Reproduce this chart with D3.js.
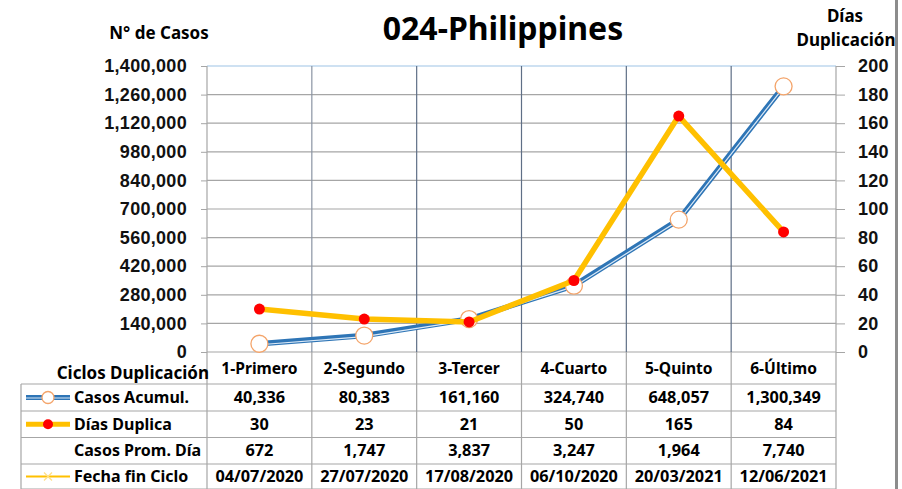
<!DOCTYPE html>
<html>
<head>
<meta charset="utf-8">
<script src="https://cdn.jsdelivr.net/npm/d3@7"></script>
<style>
  body { margin: 0; background: #fff; }
  svg { display: block; font-family: "Noto Sans", "Open Sans", sans-serif; font-weight: bold; }
</style>
</head>
<body>
<div class="chart"></div>
<script>
const categories = ["1-Primero", "2-Segundo", "3-Tercer", "4-Cuarto", "5-Quinto", "6-Último"];
const casosAcumul = [40336, 80383, 161160, 324740, 648057, 1300349];
const diasDuplica = [30, 23, 21, 50, 165, 84];
const casosPromDia = ["672", "1,747", "3,837", "3,247", "1,964", "7,740"];
const fechaFinCiclo = ["04/07/2020", "27/07/2020", "17/08/2020", "06/10/2020", "20/03/2021", "12/06/2021"];
const leftTicks = d3.range(0, 1400001, 140000);
const rightTicks = d3.range(0, 201, 20);

const width = 902, height = 489;
const plot = { left: 207, right: 836, top: 66, bottom: 352 };
const table = { left: 21, rows: [384, 411, 437.5, 464, 489] };

const svg = d3.select(".chart").append("svg")
    .attr("width", width)
    .attr("height", height);

const x = d3.scaleBand()
    .domain(categories)
    .range([plot.left, plot.right])
    .padding(0);

const y = d3.scaleLinear()
    .domain([0, 1400000])
    .range([plot.bottom, plot.top]);

const y2 = d3.scaleLinear()
    .domain([0, 200])
    .range([plot.bottom, plot.top]);

const cx = c => x(c) + x.bandwidth() / 2;

// horizontal grid
svg.append("g").selectAll("line")
    .data(leftTicks)
    .join("line")
    .attr("x1", plot.left).attr("x2", plot.right)
    .attr("y1", d => y(d)).attr("y2", d => y(d))
    .attr("stroke", d => d == 1400000 ? "#9dc3e6" : "#a6a6a6")
    .attr("stroke-width", 1.2);

// vertical dividers, plot part darker, table part lighter
const dividers = categories.map(c => x(c)).concat([plot.right]);
svg.append("g").selectAll("line")
    .data(dividers)
    .join("line")
    .attr("x1", d => d).attr("x2", d => d)
    .attr("y1", plot.top).attr("y2", plot.bottom)
    .attr("stroke", (d, i) => (i == 0 || i == 6) ? "#a6a6a6" : (i == 1 ? "#8a94a3" : "#5f6f86"))
    .attr("stroke-width", 1.2);

svg.append("g").selectAll("line")
    .data(dividers)
    .join("line")
    .attr("x1", d => d).attr("x2", d => d)
    .attr("y1", plot.bottom).attr("y2", height)
    .attr("stroke", "#a6a6a6")
    .attr("stroke-width", 1.2);

// axes
const leftAxis = svg.append("g")
    .attr("transform", `translate(${plot.left},0)`)
    .call(d3.axisLeft(y).tickValues(leftTicks).tickSize(6).tickPadding(14).tickFormat(d3.format(",")));
leftAxis.select(".domain").remove();
leftAxis.selectAll("line").attr("stroke", "#a6a6a6");
leftAxis.selectAll("text").attr("font-size", 18).attr("font-family", null).attr("fill", "#111")
    .attr("letter-spacing", 0.3);

const rightAxis = svg.append("g")
    .attr("transform", `translate(${plot.right},0)`)
    .call(d3.axisRight(y2).tickValues(rightTicks).tickSize(9).tickPadding(13));
rightAxis.select(".domain").remove();
rightAxis.selectAll("line").attr("stroke", "#a6a6a6");
rightAxis.selectAll("text").attr("font-size", 18).attr("font-family", null).attr("fill", "#111")
    .attr("letter-spacing", 0.3);

// titles
svg.append("text")
    .attr("x", 503).attr("y", 40)
    .attr("text-anchor", "middle")
    .attr("font-size", 32)
    .text("024-Philippines");

svg.append("text")
    .attr("x", 159).attr("y", 39)
    .attr("text-anchor", "middle")
    .attr("font-size", 17)
    .text("N° de Casos");

svg.append("text")
    .attr("x", 845).attr("y", 22)
    .attr("text-anchor", "middle")
    .attr("font-size", 17)
    .text("Días");

svg.append("text")
    .attr("x", 846).attr("y", 46)
    .attr("text-anchor", "middle")
    .attr("font-size", 17)
    .text("Duplicación");

// casos line (double blue)
const casosLine = d3.line()
    .x((d, i) => cx(categories[i]))
    .y(d => y(d));

svg.append("path")
    .datum(casosAcumul)
    .attr("fill", "none")
    .attr("stroke", "#2e75b6")
    .attr("stroke-width", 5.5)
    .attr("d", casosLine);
svg.append("path")
    .datum(casosAcumul)
    .attr("fill", "none")
    .attr("stroke", "#dce9f6")
    .attr("stroke-width", 1.2)
    .attr("transform", "translate(0,1)")
    .attr("d", casosLine);

svg.append("g").selectAll("circle")
    .data(casosAcumul)
    .join("circle")
    .attr("cx", (d, i) => cx(categories[i]))
    .attr("cy", d => y(d))
    .attr("r", 8.5)
    .attr("fill", "#fff")
    .attr("stroke", "#f4a46a")
    .attr("stroke-width", 1.3);

// dias line (yellow)
const diasLine = d3.line()
    .x((d, i) => cx(categories[i]))
    .y(d => y2(d));

svg.append("path")
    .datum(diasDuplica)
    .attr("fill", "none")
    .attr("stroke", "#ffc000")
    .attr("stroke-width", 5.5)
    .attr("stroke-linejoin", "round")
    .attr("d", diasLine);

svg.append("g").selectAll("circle")
    .data(diasDuplica)
    .join("circle")
    .attr("cx", (d, i) => cx(categories[i]))
    .attr("cy", d => y2(d))
    .attr("r", 5.5)
    .attr("fill", "#ff0000");

// data table
svg.append("g").selectAll("line")
    .data(table.rows)
    .join("line")
    .attr("x1", table.left).attr("x2", plot.right)
    .attr("y1", d => d).attr("y2", d => d)
    .attr("stroke", "#a6a6a6")
    .attr("stroke-width", 1.2);

svg.append("line")
    .attr("x1", table.left).attr("x2", table.left)
    .attr("y1", table.rows[0]).attr("y2", height)
    .attr("stroke", "#a6a6a6")
    .attr("stroke-width", 1.2);

svg.append("text")
    .attr("x", 209).attr("y", 379)
    .attr("text-anchor", "end")
    .attr("font-size", 17)
    .text("Ciclos Duplicación");

svg.append("g").selectAll("text")
    .data(categories)
    .join("text")
    .attr("x", d => cx(d))
    .attr("y", 374)
    .attr("text-anchor", "middle")
    .attr("font-size", 15.6)
    .text(d => d);

const rows = [
    { label: "Casos Acumul.", values: casosAcumul.map(d3.format(",")) },
    { label: "Días Duplica", values: diasDuplica.map(String) },
    { label: "Casos Prom. Día", values: casosPromDia },
    { label: "Fecha fin Ciclo", values: fechaFinCiclo }
];

rows.forEach((r, ri) => {
    const my = (table.rows[ri] + table.rows[ri + 1]) / 2;
    svg.append("text")
        .attr("x", 74).attr("y", my)
        .attr("dy", "0.35em")
        .attr("font-size", 16)
        .text(r.label);
    svg.append("g").selectAll("text")
        .data(r.values)
        .join("text")
        .attr("x", (d, i) => cx(categories[i]))
        .attr("y", my)
        .attr("dy", "0.35em")
        .attr("text-anchor", "middle")
        .attr("font-size", 16.3)
        .text(d => d);
});

// legend keys in table
const key1 = (table.rows[0] + table.rows[1]) / 2;
svg.append("line").attr("x1", 26).attr("x2", 70).attr("y1", key1).attr("y2", key1)
    .attr("stroke", "#2e75b6").attr("stroke-width", 5);
svg.append("line").attr("x1", 26).attr("x2", 70).attr("y1", key1 + 0.5).attr("y2", key1 + 0.5)
    .attr("stroke", "#dce9f6").attr("stroke-width", 1.2);
svg.append("circle").attr("cx", 48).attr("cy", key1).attr("r", 6)
    .attr("fill", "#fff").attr("stroke", "#f4a46a").attr("stroke-width", 1.3);

const key2 = (table.rows[1] + table.rows[2]) / 2;
svg.append("line").attr("x1", 26).attr("x2", 70).attr("y1", key2).attr("y2", key2)
    .attr("stroke", "#ffc000").attr("stroke-width", 5);
svg.append("circle").attr("cx", 48).attr("cy", key2).attr("r", 5)
    .attr("fill", "#ff0000");

const key4 = (table.rows[3] + table.rows[4]) / 2;
svg.append("line").attr("x1", 26).attr("x2", 70).attr("y1", key4).attr("y2", key4)
    .attr("stroke", "#ffc000").attr("stroke-width", 2);
svg.append("path")
    .attr("d", `M${44},${key4 - 4}L${52},${key4 + 4}M${44},${key4 + 4}L${52},${key4 - 4}`)
    .attr("stroke", "#ffe08a").attr("stroke-width", 1.3);

// right edge bar
svg.append("rect")
    .attr("x", 895).attr("y", 0)
    .attr("width", 3).attr("height", height)
    .attr("fill", "#8c8c8c");
</script>
</body>
</html>
